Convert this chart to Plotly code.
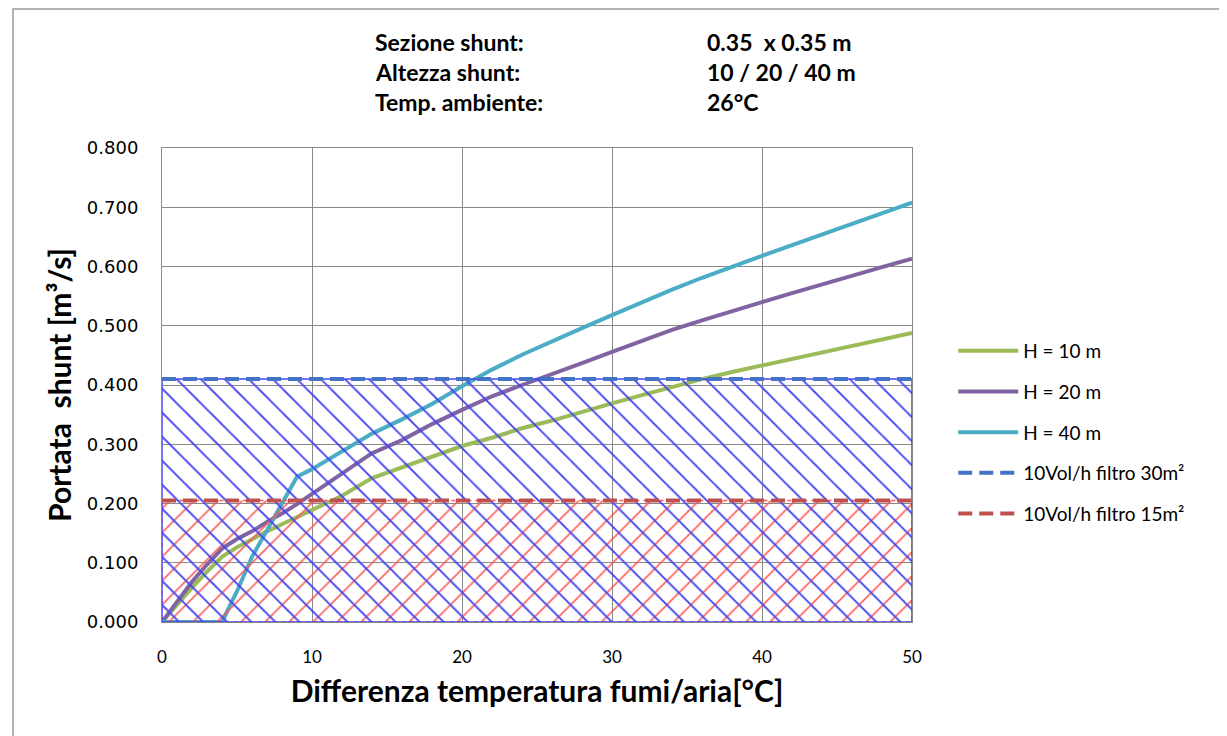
import plotly.graph_objects as go

# ---- data ----
delta_t = [0, 1, 2, 3, 4, 5, 6, 7, 8, 9, 10, 12, 14, 16, 18, 20, 22, 24, 26, 28,
           30, 32, 34, 36, 38, 40, 42, 44, 46, 48, 50]
h10 = [0.0, 0.030, 0.058, 0.085, 0.110, 0.126, 0.140, 0.153, 0.165, 0.177, 0.188,
       0.213, 0.243, 0.261, 0.279, 0.297, 0.311, 0.327, 0.340, 0.355,
       0.369, 0.383, 0.397, 0.410, 0.422, 0.433, 0.444, 0.455, 0.466, 0.477, 0.488]
h20 = [0.0, 0.035, 0.068, 0.097, 0.124, 0.140, 0.153, 0.169, 0.183, 0.199, 0.216,
       0.252, 0.285, 0.307, 0.334, 0.358, 0.381, 0.400, 0.418, 0.437,
       0.456, 0.475, 0.493, 0.509, 0.525, 0.540, 0.555, 0.570, 0.584, 0.599, 0.613]
h40 = [0.0, 0.0, 0.0, 0.0, 0.0, 0.052, 0.110, 0.155, 0.200, 0.245, 0.258,
       0.288, 0.318, 0.342, 0.368, 0.398, 0.426, 0.451, 0.474, 0.496,
       0.518, 0.540, 0.561, 0.581, 0.600, 0.618, 0.636, 0.654, 0.672, 0.690, 0.708]
filtro30 = 0.41   # 10Vol/h filtro 30m²
filtro15 = 0.205  # 10Vol/h filtro 15m²

series_names = ["H = 10 m", "H = 20 m", "H = 40 m"]
limit_names = ["10Vol/h filtro 30m²", "10Vol/h filtro 15m²"]
x_ticks = [0, 10, 20, 30, 40, 50]
y_ticks = [0.0, 0.1, 0.2, 0.3, 0.4, 0.5, 0.6, 0.7, 0.8]

header_labels = ["Sezione shunt:", "Altezza shunt:", "Temp. ambiente:"]
header_values = ["0.35  x 0.35 m", "10 / 20 / 40 m", "26°C"]

# ---- style ----
GREEN = "#9BBB59"
PURPLE = "#8064A2"
CYAN = "#4BACC6"
BLUE = "#4472C4"
RED = "#C0504D"
GRID = "#8a8a8a"
TXT = "Lato"

fig = go.Figure()

for name, ys, col, g in zip(series_names, [h10, h20, h40], [GREEN, PURPLE, CYAN], ["a", "b", "c"]):
    fig.add_trace(go.Scatter(x=delta_t, y=ys, mode="lines", name=name, legendgroup=g,
                             line=dict(color=col, width=4)))

x0, x1 = delta_t[0], delta_t[-1]
# hatched areas under the limit lines
fig.add_trace(go.Scatter(x=[x0, x1, x1, x0, x0], y=[0, 0, filtro15, filtro15, 0],
                         mode="lines", fill="toself", showlegend=False, hoverinfo="skip",
                         fillcolor="rgba(0,0,0,0)",
                         fillpattern=dict(shape="/", fgcolor="rgb(255,80,80)", fgopacity=0.9,
                                          bgcolor="rgba(0,0,0,0)", size=17, solidity=0.1),
                         line=dict(color="rgba(255,70,70,0.9)", width=1.5, dash="4px,4px")))
fig.add_trace(go.Scatter(x=[x0, x1, x1, x0, x0], y=[0, 0, filtro30, filtro30, 0],
                         mode="lines", fill="toself", showlegend=False, hoverinfo="skip",
                         fillcolor="rgba(0,0,0,0)",
                         fillpattern=dict(shape="\\", fgcolor="rgb(70,70,240)", fgopacity=1,
                                          bgcolor="rgba(0,0,0,0)", size=17, solidity=0.11),
                         line=dict(color="rgb(70,70,240)", width=1.5)))

for name, val, col, g in zip(limit_names, [filtro30, filtro15], [BLUE, RED], ["d", "e"]):
    fig.add_trace(go.Scatter(x=[x0, x1], y=[val, val], mode="lines", name=name, legendgroup=g,
                             line=dict(color=col, width=4, dash="14px,7px")))

# header text
for i, (lab, val) in enumerate(zip(header_labels, header_values)):
    ypos = 1.2236 - i * 0.0633
    fig.add_annotation(text=lab, x=0.2813, y=ypos, xref="paper", yref="paper",
                       xanchor="left", yanchor="middle", showarrow=False,
                       font=dict(family=TXT, size=23, color="black", weight="bold"))
    fig.add_annotation(text=val, x=0.724, y=ypos, xref="paper", yref="paper",
                       xanchor="left", yanchor="middle", showarrow=False,
                       font=dict(family=TXT, size=23, color="black", weight="bold"))

# outer chart border
fig.add_shape(type="rect", xref="paper", yref="paper", x0=-0.1987, x1=1.45, y0=-0.3, y1=1.2932,
              line=dict(color="#9a9a9a", width=1.5), fillcolor="rgba(0,0,0,0)", layer="below")

fig.update_layout(
    width=1227, height=736,
    margin=dict(l=154, r=323, t=140, b=122),
    paper_bgcolor="white", plot_bgcolor="white",
    font=dict(family=TXT, color="black"),
    showlegend=True,
    legend=dict(x=1.055, y=0.40, xanchor="left", yanchor="middle",
                traceorder="grouped", tracegroupgap=13, itemwidth=60,
                font=dict(family=TXT, size=19, color="black"), bgcolor="rgba(0,0,0,0)"),
    xaxis=dict(range=[0, 50], tickvals=x_ticks, ticks="", showgrid=True, gridcolor=GRID,
               gridwidth=1, showline=True, linecolor=GRID, linewidth=1, mirror=True,
               zeroline=False, ticklabelstandoff=20,
               tickfont=dict(family=TXT, size=17, color="black"),
               title=dict(text="Differenza temperatura fumi/aria[°C]", standoff=14,
                          font=dict(family=TXT, size=30, color="black", weight="bold"))),
    yaxis=dict(range=[0, 0.8], tickvals=y_ticks, tickformat=".3f", ticks="", showgrid=True,
               gridcolor=GRID, gridwidth=1, showline=True, linecolor=GRID, linewidth=1,
               mirror=True, zeroline=False, ticklabelstandoff=19,
               tickfont=dict(family="DejaVu Sans", size=18, color="black"),
               title=dict(text="Portata  shunt [m³/s]", standoff=6,
                          font=dict(family=TXT, size=30, color="black", weight="bold"))),
)

fig.write_html("out.html")
